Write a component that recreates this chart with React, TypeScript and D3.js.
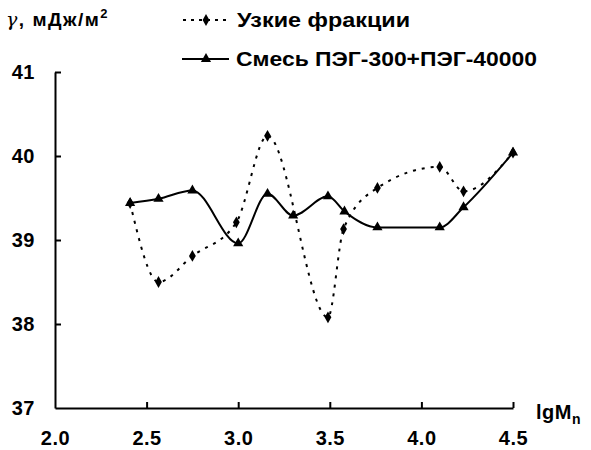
import React, { useRef, useEffect } from 'react';
import * as d3 from 'd3';

// Узкие фракции (dotted)
const narrowX = [2.41, 2.565, 2.75, 2.99, 3.16, 3.49, 3.575, 3.76, 4.10, 4.23, 4.50];
const narrowY = [39.44, 38.50, 38.81, 39.21, 40.24, 38.08, 39.13, 39.62, 39.87, 39.58, 40.04];

// Смесь ПЭГ-300+ПЭГ-40000 (solid)
const mixX = [2.41, 2.565, 2.75, 3.0, 3.16, 3.30, 3.49, 3.58, 3.76, 4.10, 4.23, 4.50];
const mixY = [39.44, 39.49, 39.59, 38.96, 39.55, 39.29, 39.52, 39.34, 39.15, 39.15, 39.39, 40.04];

const xTicks = [2.0, 2.5, 3.0, 3.5, 4.0, 4.5];
const yTicks = [37, 38, 39, 40, 41];

const App = () => {
    const svgRef = useRef<SVGSVGElement>(null);

    useEffect(() => {
        drawChart();
    }, []);

    const drawChart = () => {
        const svg = d3.select(svgRef.current);
        svg.selectAll('*').remove();

        const font = 'Arial, "Liberation Sans", sans-serif';
        const x = d3.scaleLinear().domain([2.0, 4.5]).range([55, 513]);
        const y = d3.scaleLinear().domain([37, 41]).range([408, 72]);

        // axes
        const yAxis = svg.append('g')
            .attr('transform', `translate(${x(2.0)},0)`)
            .call(d3.axisLeft(y).tickValues(yTicks).tickSize(-6).tickSizeOuter(0).tickPadding(20).tickFormat(d3.format('d')));
        const xAxis = svg.append('g')
            .attr('transform', `translate(0,${y(37)})`)
            .call(d3.axisBottom(x).tickValues(xTicks).tickSize(-6).tickSizeOuter(0).tickPadding(23).tickFormat(d3.format('.1f')));

        [yAxis, xAxis].forEach(g => {
            g.select('.domain').attr('stroke', '#000').attr('stroke-width', 2);
            g.selectAll('.tick line').attr('stroke', '#000').attr('stroke-width', 2);
            g.selectAll('.tick text')
                .attr('fill', '#000')
                .style('font-family', font)
                .style('font-weight', 'bold')
                .style('font-size', '20px')
                .style('letter-spacing', '0.5px');
        });
        // no tick marks at the corner
        xAxis.selectAll('.tick line').filter((d: any) => d === 2.0).remove();
        yAxis.selectAll('.tick line').filter((d: any) => d === 37).remove();

        const line = d3.line<[number, number]>()
            .x(d => x(d[0]))
            .y(d => y(d[1]))
            .curve(d3.curveMonotoneX);

        const narrow: [number, number][] = narrowX.map((v, i) => [v, narrowY[i]]);
        const mix: [number, number][] = mixX.map((v, i) => [v, mixY[i]]);

        svg.append('path')
            .attr('d', line(narrow))
            .attr('fill', 'none')
            .attr('stroke', '#000')
            .attr('stroke-width', 2)
            .attr('stroke-dasharray', '3,6');

        svg.append('path')
            .attr('d', line(mix))
            .attr('fill', 'none')
            .attr('stroke', '#000')
            .attr('stroke-width', 2);

        const diamond = d3.symbol().type(d3.symbolDiamond).size(40);
        const tri = d3.symbol().type(d3.symbolTriangle).size(45);

        svg.append('g').selectAll('path')
            .data(mix)
            .enter().append('path')
            .attr('transform', d => `translate(${x(d[0])},${y(d[1])})`)
            .attr('d', tri())
            .attr('fill', '#000');

        svg.append('g').selectAll('path')
            .data(narrow)
            .enter().append('path')
            .attr('transform', d => `translate(${x(d[0])},${y(d[1])})`)
            .attr('d', diamond())
            .attr('fill', '#000');

        // legend
        const legend = svg.append('g');
        legend.append('line')
            .attr('x1', 183).attr('x2', 229).attr('y1', 20).attr('y2', 20)
            .attr('stroke', '#000').attr('stroke-width', 2).attr('stroke-dasharray', '3,5');
        legend.append('path')
            .attr('transform', 'translate(206,20)')
            .attr('d', diamond())
            .attr('fill', '#000');
        legend.append('text')
            .attr('x', 237).attr('y', 27)
            .attr('textLength', 173).attr('lengthAdjust', 'spacingAndGlyphs')
            .style('font-family', font).style('font-weight', 'bold').style('font-size', '20px')
            .text('Узкие фракции');

        legend.append('line')
            .attr('x1', 182).attr('x2', 229).attr('y1', 59).attr('y2', 59)
            .attr('stroke', '#000').attr('stroke-width', 2);
        legend.append('path')
            .attr('transform', 'translate(206,59)')
            .attr('d', tri())
            .attr('fill', '#000');
        legend.append('text')
            .attr('x', 236).attr('y', 66)
            .attr('textLength', 301).attr('lengthAdjust', 'spacingAndGlyphs')
            .style('font-family', font).style('font-weight', 'bold').style('font-size', '20px')
            .text('Смесь ПЭГ-300+ПЭГ-40000');

        // axis titles
        const yt = svg.append('text')
            .attr('x', 6).attr('y', 26)
            .style('font-family', font).style('font-weight', 'bold').style('font-size', '19px')
            .style('letter-spacing', '1.5px');
        yt.append('tspan').style('font-family', '"DejaVu Serif", serif').style('font-style', 'italic').style('font-weight', 'normal').text('γ');
        yt.append('tspan').text(', мДж/м');
        yt.append('tspan').attr('dy', -8).style('font-size', '13px').text('2');

        const xt = svg.append('text')
            .attr('x', 536).attr('y', 419)
            .style('font-family', font).style('font-weight', 'bold').style('font-size', '20px')
            .style('letter-spacing', '0.5px');
        xt.append('tspan').text('lgM');
        xt.append('tspan').attr('dy', 5).style('font-size', '14px').text('n');
    };

    return (
        <svg ref={svgRef} width={591} height={450}
            style={{ position: 'absolute', left: 0, top: 0, background: '#fff' }}></svg>
    );
};

export default App;
